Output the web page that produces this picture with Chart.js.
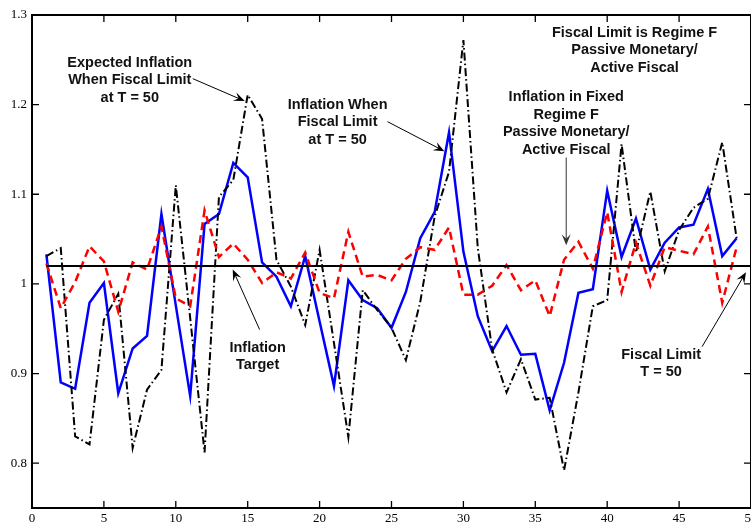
<!DOCTYPE html>
<html><head><meta charset="utf-8">
<script src="https://cdn.jsdelivr.net/npm/chart.js@4.4.1/dist/chart.umd.min.js"></script>
<style>html,body{margin:0;padding:0;background:#fff;} canvas{display:block;}</style>
</head><body>
<canvas id="c" width="751" height="525" style="width:751px;height:525px"></canvas>
<script>
const periods = [1,2,3,4,5,6,7,8,9,10,11,12,13,14,15,16,17,18,19,20,21,22,23,24,25,26,27,28,29,30,31,32,33,34,35,36,37,38,39,40,41,42,43,44,45,46,47,48,49];
const inflationFiscalLimit = [1.033,0.890,0.883,0.979,1.001,0.878,0.928,0.942,1.078,0.976,0.875,1.067,1.078,1.135,1.119,1.024,1.008,0.975,1.031,0.958,0.886,1.004,0.982,0.973,0.951,0.991,1.051,1.080,1.169,1.036,0.964,0.925,0.953,0.921,0.922,0.859,0.912,0.990,0.994,1.104,1.030,1.073,1.016,1.046,1.063,1.066,1.106,1.031,1.051];
const inflationFixedRegimeF = [1.023,0.973,1.002,1.042,1.025,0.969,1.024,1.016,1.064,0.984,0.975,1.082,1.030,1.045,1.027,1.001,1.013,1.006,1.035,0.990,0.984,1.058,1.008,1.010,1.004,1.028,1.041,1.038,1.063,0.988,0.988,0.998,1.021,0.993,1.004,0.964,1.027,1.047,1.017,1.080,0.991,1.046,0.998,1.041,1.037,1.033,1.064,0.979,1.041];
const expectedInflation = [1.031,1.040,0.830,0.821,0.960,0.989,0.817,0.882,0.904,1.110,0.962,0.812,1.097,1.116,1.211,1.184,1.027,0.997,0.954,1.038,0.934,0.829,0.993,0.971,0.951,0.915,0.980,1.075,1.125,1.272,1.040,0.927,0.879,0.916,0.871,0.873,0.792,0.879,0.975,0.982,1.156,1.035,1.103,1.014,1.060,1.085,1.095,1.158,1.051];
const targetSpan = [1, 50];
const inflationTarget = 1.02;
const xTicks = [0,5,10,15,20,25,30,35,40,45,50];
const yTicks = [0.8,0.9,1.0,1.1,1.2,1.3];
const yTickLabels = ['0.8','0.9','1','1.1','1.2','1.3'];

// annotation texts, anchored in data coordinates
const notes = [
  {lines:['Expected Inflation','When Fiscal Limit','at T = 50'], x:6.8, y:1.2467, arrow:[11.18,1.229,14.79,1.204], color:'#000'},
  {lines:['Inflation When','Fiscal Limit','at T = 50'], x:21.25, y:1.2, arrow:[24.72,1.181,28.68,1.148], color:'#000'},
  {lines:['Fiscal Limit is Regime F','Passive Monetary/','Active Fiscal'], x:41.9, y:1.28, arrow:null},
  {lines:['Inflation in Fixed','Regime F','Passive Monetary/','Active Fiscal'], x:37.15, y:1.208, arrow:[37.15,1.141,37.15,1.043], color:'#333'},
  {lines:['Inflation','Target'], x:15.69, y:0.929, arrow:[15.83,0.949,13.96,1.016], color:'#000'},
  {lines:['Fiscal Limit','T = 50'], x:43.75, y:0.921, arrow:[46.6,0.930,49.65,1.013], color:'#000'}
];

function pts(vals){ return periods.map((p,i)=>({x:p,y:vals[i]})); }

const boxPlugin = {
  id:'box',
  afterDatasetsDraw(chart){
    const {ctx, chartArea:a, scales:{x,y}} = chart;
    ctx.save();
    ctx.strokeStyle='#000'; ctx.lineWidth=2;
    ctx.strokeRect(a.left, a.top, a.right-a.left, a.bottom-a.top);
    ctx.lineWidth=1.3;
    const tl=7;
    ctx.beginPath();
    xTicks.forEach(t=>{ const px=x.getPixelForValue(t); if(px<=a.left+1||px>=a.right-1) return;
      ctx.moveTo(px,a.bottom); ctx.lineTo(px,a.bottom-tl); ctx.moveTo(px,a.top); ctx.lineTo(px,a.top+tl); });
    yTicks.forEach(t=>{ const py=y.getPixelForValue(t); if(py<=a.top+1||py>=a.bottom-1) return;
      ctx.moveTo(a.left,py); ctx.lineTo(a.left+tl,py); ctx.moveTo(a.right,py); ctx.lineTo(a.right-tl,py); });
    ctx.stroke();
    // annotations
    ctx.font='bold 14.5px "Liberation Sans", Arial, sans-serif';
    ctx.textAlign='center'; ctx.textBaseline='middle';
    ctx.fillStyle='#111';
    notes.forEach(n=>{
      const cx=x.getPixelForValue(n.x), cy=y.getPixelForValue(n.y);
      n.lines.forEach((l,i)=>ctx.fillText(l, cx, cy+i*17.5));
      if(n.arrow){
        const x1=x.getPixelForValue(n.arrow[0]), y1=y.getPixelForValue(n.arrow[1]);
        const x2=x.getPixelForValue(n.arrow[2]), y2=y.getPixelForValue(n.arrow[3]);
        ctx.strokeStyle=n.color; ctx.fillStyle=n.color; ctx.lineWidth=1;
        const ang=Math.atan2(y2-y1,x2-x1), L=11, W=4.5;
        ctx.beginPath(); ctx.moveTo(x1,y1); ctx.lineTo(x2-Math.cos(ang)*6,y2-Math.sin(ang)*6); ctx.stroke();
        ctx.beginPath();
        ctx.moveTo(x2,y2);
        ctx.lineTo(x2-L*Math.cos(ang)+W*Math.sin(ang), y2-L*Math.sin(ang)-W*Math.cos(ang));
        ctx.lineTo(x2-0.6*L*Math.cos(ang), y2-0.6*L*Math.sin(ang));
        ctx.lineTo(x2-L*Math.cos(ang)-W*Math.sin(ang), y2-L*Math.sin(ang)+W*Math.cos(ang));
        ctx.closePath(); ctx.fill();
        ctx.fillStyle='#111';
      }
    });
    ctx.restore();
  }
};

new Chart(document.getElementById('c'), {
  type:'line',
  data:{ datasets:[
    {label:'Inflation Target', data:targetSpan.map(t=>({x:t,y:inflationTarget})), borderColor:'#000', borderWidth:2, pointRadius:0, tension:0},
    {label:'Inflation in Fixed Regime F', data:pts(inflationFixedRegimeF), borderColor:'#ff0000', borderWidth:2.5, borderDash:[8,5], pointRadius:0, tension:0},
    {label:'Expected Inflation', data:pts(expectedInflation), borderColor:'#000', borderWidth:2, borderDash:[8,3,1.5,3], pointRadius:0, tension:0},
    {label:'Inflation When Fiscal Limit', data:pts(inflationFiscalLimit), borderColor:'#0000ff', borderWidth:2.5, pointRadius:0, tension:0}
  ]},
  options:{
    responsive:false, animation:false, devicePixelRatio:1,
    layout:{padding:{top:15,right:0,left:0,bottom:0}},
    plugins:{legend:{display:false}, tooltip:{enabled:false}},
    scales:{
      x:{type:'linear', min:0, max:50,
        afterBuildTicks(s){ s.ticks = xTicks.map(v=>({value:v})); },
        afterFit(s){ s.height = 17; s.paddingRight = 0; s.paddingLeft = 0; },
        grid:{display:false, drawTicks:false}, border:{display:false},
        ticks:{padding:3, color:'#000', font:{family:'"Liberation Serif", "Times New Roman", serif', size:13}, maxRotation:0, autoSkip:false}
      },
      y:{type:'linear', min:0.75, max:1.3,
        afterBuildTicks(s){ s.ticks = yTicks.map(v=>({value:v})); },
        afterFit(s){ s.width = 32; s.paddingTop = 0; s.paddingBottom = 0; },
        grid:{display:false, drawTicks:false}, border:{display:false},
        ticks:{padding:5, color:'#000', font:{family:'"Liberation Serif", "Times New Roman", serif', size:13},
          callback:(v)=>{ const i=yTicks.findIndex(t=>Math.abs(t-v)<1e-6); return i>=0?yTickLabels[i]:''; }}
      }
    }
  },
  plugins:[boxPlugin]
});
</script>
</body></html>
